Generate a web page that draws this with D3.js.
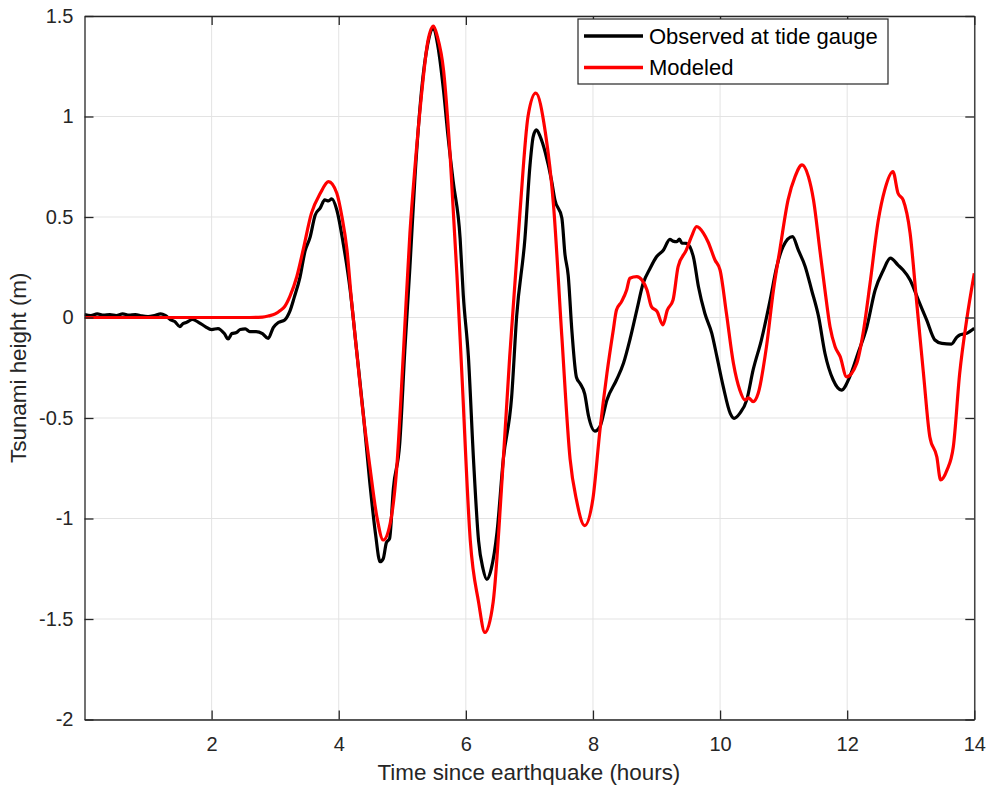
<!DOCTYPE html>
<html><head><meta charset="utf-8">
<script src="https://cdn.jsdelivr.net/npm/d3@7/dist/d3.min.js"></script>
<style>body{margin:0;background:#fff;} svg{display:block;} text{font-family:Arial,"Liberation Sans",sans-serif;}</style>
</head><body>
<svg id="chart" width="988" height="786"></svg>
<script>
const xTicks = [2,4,6,8,10,12,14];
const yTicks = [-2,-1.5,-1,-0.5,0,0.5,1,1.5];
const yTickLabels = ["-2","-1.5","-1","-0.5","0","0.5","1","1.5"];
const seriesNames = ["Observed at tide gauge","Modeled"];
const seriesColors = ["#000000","#ff0000"];

const observedT = [0,0.1,0.2,0.3,0.4,0.5,0.6,0.7,0.8,0.9,1.0,1.1,1.2,1.27,1.35,1.42,1.5,1.55,1.6,1.7,1.8,1.9,2.0,2.1,2.2,2.26,2.32,2.39,2.45,2.53,2.6,2.7,2.8,2.89,2.97,3.05,3.15,3.23,3.3,3.39,3.47,3.55,3.63,3.71,3.78,3.84,3.89,3.97,4.07,4.18,4.28,4.39,4.49,4.58,4.65,4.7,4.75,4.8,4.86,4.96,5.04,5.12,5.2,5.3,5.4,5.49,5.56,5.65,5.72,5.8,5.91,5.96,6.04,6.12,6.2,6.27,6.33,6.4,6.49,6.59,6.72,6.8,6.93,7.01,7.06,7.11,7.17,7.25,7.35,7.4,7.51,7.56,7.61,7.67,7.74,7.8,7.87,7.93,8.03,8.11,8.22,8.37,8.48,8.58,8.69,8.79,8.9,9.0,9.11,9.21,9.26,9.32,9.36,9.4,9.47,9.58,9.66,9.76,9.87,9.95,10.05,10.16,10.22,10.31,10.42,10.52,10.65,10.79,10.89,10.99,11.14,11.23,11.34,11.44,11.55,11.65,11.78,11.91,12.04,12.17,12.31,12.44,12.57,12.68,12.8,12.88,12.99,13.12,13.25,13.38,13.49,13.64,13.72,13.77,13.88,14.0];
const observedH = [0.015,0.01,0.018,0.012,0.015,0.01,0.018,0.012,0.015,0.008,0.005,0.01,0.018,0.01,-0.01,-0.02,-0.045,-0.03,-0.025,-0.01,-0.025,-0.045,-0.06,-0.055,-0.08,-0.107,-0.08,-0.075,-0.06,-0.057,-0.07,-0.07,-0.08,-0.104,-0.05,-0.025,-0.012,0.03,0.1,0.2,0.33,0.40,0.51,0.545,0.585,0.58,0.59,0.535,0.37,0.137,-0.16,-0.49,-0.825,-1.08,-1.215,-1.2,-1.12,-1.1,-0.85,-0.626,-0.162,0.25,0.7,1.12,1.36,1.44,1.35,1.126,0.9,0.679,0.394,0.11,-0.195,-0.703,-1.11,-1.25,-1.303,-1.25,-1.069,-0.703,-0.398,0.008,0.394,0.76,0.9,0.933,0.9,0.821,0.679,0.587,0.496,0.313,0.211,-0.073,-0.297,-0.33,-0.38,-0.49,-0.565,-0.543,-0.41,-0.311,-0.228,-0.112,0.037,0.17,0.245,0.302,0.336,0.389,0.38,0.377,0.39,0.37,0.369,0.302,0.153,0.021,-0.079,-0.195,-0.344,-0.477,-0.502,-0.477,-0.41,-0.261,-0.112,0.09,0.25,0.352,0.402,0.336,0.253,0.137,0.004,-0.178,-0.311,-0.361,-0.295,-0.178,-0.046,0.137,0.236,0.295,0.261,0.236,0.187,0.087,-0.012,-0.112,-0.129,-0.132,-0.1,-0.087,-0.079,-0.054];

const modeledT = [0,0.5,1.0,1.5,2.0,2.5,2.8,2.9,3.0,3.08,3.15,3.23,3.34,3.44,3.57,3.71,3.84,3.97,4.05,4.13,4.2,4.28,4.39,4.49,4.6,4.7,4.81,4.91,5.02,5.12,5.2,5.3,5.4,5.49,5.55,5.65,5.75,5.86,5.94,6.07,6.2,6.3,6.43,6.57,6.69,6.85,6.98,7.1,7.25,7.38,7.51,7.64,7.74,7.87,8.0,8.11,8.22,8.32,8.37,8.45,8.53,8.58,8.69,8.77,8.85,8.92,9.01,9.1,9.17,9.26,9.34,9.47,9.55,9.63,9.74,9.81,9.92,10.0,10.1,10.21,10.31,10.39,10.45,10.52,10.6,10.73,10.84,10.94,11.07,11.18,11.29,11.39,11.47,11.57,11.65,11.73,11.81,11.89,11.99,12.15,12.25,12.36,12.49,12.59,12.72,12.8,12.88,12.99,13.09,13.2,13.3,13.41,13.47,13.57,13.67,13.77,13.88,14.0];
const modeledH = [0,0,0,0,0,0,0.002,0.008,0.018,0.035,0.055,0.104,0.203,0.336,0.518,0.618,0.676,0.618,0.502,0.336,0.087,-0.162,-0.494,-0.742,-0.991,-1.107,-1.024,-0.759,-0.162,0.419,0.75,1.1,1.37,1.45,1.4,1.228,0.821,0.211,-0.297,-1.11,-1.415,-1.567,-1.415,-0.805,-0.195,0.516,1.004,1.116,0.923,0.557,-0.093,-0.703,-0.907,-1.035,-0.9,-0.56,-0.278,-0.062,0.037,0.079,0.137,0.195,0.203,0.187,0.137,0.054,0.029,-0.037,0.037,0.087,0.253,0.336,0.402,0.452,0.419,0.377,0.286,0.236,0.021,-0.228,-0.361,-0.41,-0.4,-0.419,-0.377,-0.145,0.137,0.336,0.585,0.701,0.759,0.701,0.585,0.336,0.137,-0.046,-0.145,-0.195,-0.295,-0.228,-0.079,0.17,0.485,0.634,0.726,0.618,0.585,0.419,0.087,-0.278,-0.593,-0.693,-0.808,-0.759,-0.643,-0.278,-0.012,0.22];

const svg = d3.select("#chart");
const L = 84.5, R = 974.3, T = 16, B = 719.5;
const axisColor = "#262626";
const x = d3.scaleLinear().domain([0,14]).range([L,R]);
const y = d3.scaleLinear().domain([-2,1.5]).range([B,T]);

// grid
const grid = svg.append("g");
grid.selectAll(".gx").data(xTicks).join("line")
  .attr("x1",d=>x(d)).attr("x2",d=>x(d)).attr("y1",T).attr("y2",B)
  .attr("stroke","#e3e3e3").attr("stroke-width",1);
grid.selectAll(".gy").data(yTicks).join("line")
  .attr("x1",L).attr("x2",R).attr("y1",d=>y(d)).attr("y2",d=>y(d))
  .attr("stroke","#e3e3e3").attr("stroke-width",1);

// lines
const obs = observedT.map((t,i)=>[t,observedH[i]]);
const mod = modeledT.map((t,i)=>[t,modeledH[i]]);
const lineGen = d3.line().x(d=>x(d[0])).y(d=>y(d[1])).curve(d3.curveMonotoneX);
const clip = svg.append("clipPath").attr("id","clip").append("rect")
  .attr("x",L).attr("y",T).attr("width",R-L).attr("height",B-T);
const plot = svg.append("g").attr("clip-path","url(#clip)");
plot.append("path").datum(obs).attr("d",lineGen).attr("fill","none")
  .attr("stroke",seriesColors[0]).attr("stroke-width",3.2).attr("stroke-linejoin","round");
plot.append("path").datum(mod).attr("d",lineGen).attr("fill","none")
  .attr("stroke",seriesColors[1]).attr("stroke-width",3.2).attr("stroke-linejoin","round");

// axes
const fmtY = d => yTickLabels[yTicks.indexOf(d)];
const xb = svg.append("g").attr("transform",`translate(0,${B})`)
  .call(d3.axisBottom(x).tickValues(xTicks).tickSizeInner(-9).tickSizeOuter(0).tickPadding(19));
const xt = svg.append("g").attr("transform",`translate(0,${T})`)
  .call(d3.axisTop(x).tickValues(xTicks).tickSizeInner(-9).tickSizeOuter(0).tickFormat(""));
const yl = svg.append("g").attr("transform",`translate(${L},0)`)
  .call(d3.axisLeft(y).tickValues(yTicks).tickSizeInner(-9).tickSizeOuter(0).tickPadding(19).tickFormat(fmtY));
const yr = svg.append("g").attr("transform",`translate(${R},0)`)
  .call(d3.axisRight(y).tickValues(yTicks).tickSizeInner(-9).tickSizeOuter(0).tickFormat(""));
[xb,xt,yl,yr].forEach(g=>{
  g.select(".domain").attr("stroke",axisColor).attr("stroke-width",1.3);
  g.selectAll(".tick line").attr("stroke",axisColor).attr("stroke-width",1.3);
  g.selectAll(".tick text").attr("fill",axisColor).style("font-size","20px").style("font-family","Arial, 'Liberation Sans', sans-serif");
});
yl.selectAll(".tick text").attr("x",-11);
xb.selectAll(".tick text").attr("y",17);

// axis titles
svg.append("text").attr("x",(L+R)/2 - 0.5).attr("y",780).attr("text-anchor","middle")
  .attr("fill",axisColor).style("font-size","22.4px").text("Time since earthquake (hours)");
svg.append("text").attr("transform",`translate(26,${(T+B)/2}) rotate(-90)`).attr("text-anchor","middle")
  .attr("fill",axisColor).style("font-size","22.4px").text("Tsunami height (m)");

// legend
const lg = svg.append("g");
lg.append("rect").attr("x",578).attr("y",19).attr("width",310).attr("height",65)
  .attr("fill","#fff").attr("stroke",axisColor).attr("stroke-width",1.2);
seriesNames.forEach((n,i)=>{
  const yy = 36 + i*31.5;
  lg.append("line").attr("x1",584).attr("x2",643).attr("y1",yy).attr("y2",yy)
    .attr("stroke",seriesColors[i]).attr("stroke-width",3.5);
  lg.append("text").attr("x",649).attr("y",yy).attr("dominant-baseline","central")
    .attr("fill","#000").style("font-size","22px").text(n);
});
</script>
</body></html>
